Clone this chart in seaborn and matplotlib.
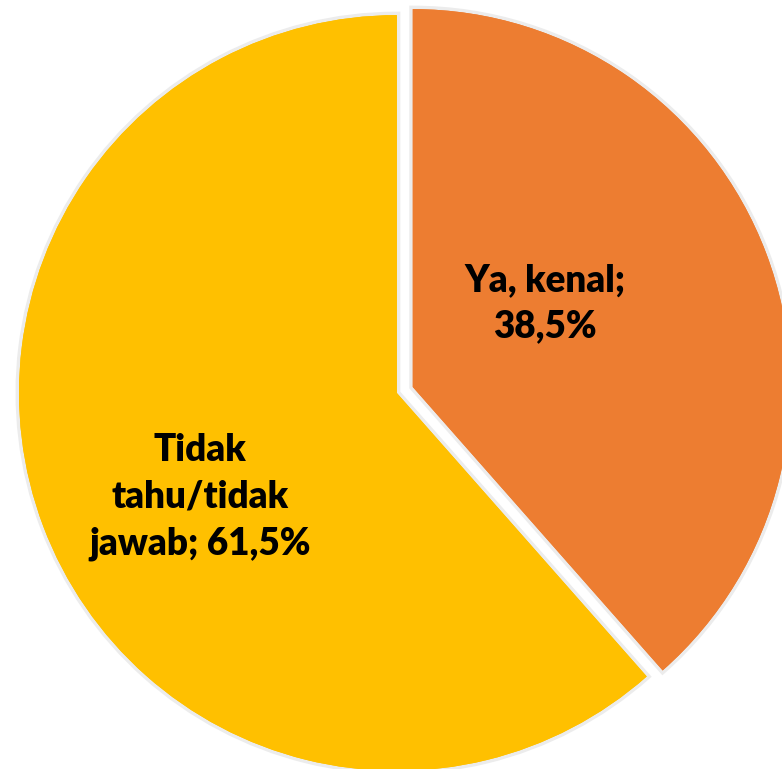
import matplotlib.pyplot as plt
import matplotlib.patheffects as pe
import seaborn as sns

# data
categories = ['Ya, kenal', 'Tidak\ntahu/tidak\njawab']
shares = [38.5, 61.5]
colors = ['#ED7D31', '#FFC000']

sns.set_theme(style='white')
plt.rcParams['font.family'] = ['Lato', 'DejaVu Sans']

fig = plt.figure(figsize=(7.82, 7.69), dpi=100)
ax = fig.add_axes([0, 0, 1, 1])

labels = []
for cat, v in zip(categories, shares):
    pct = f'{v:.1f}'.replace('.', ',')
    sep = '\n' if cat == 'Ya, kenal' else ' '
    labels.append(f'{cat};{sep}{pct}%')

wedges, texts = ax.pie(shares, labels=labels, colors=colors,
                       startangle=90, counterclock=False,
                       explode=[0.045, 0], labeldistance=0.5,
                       wedgeprops={'linewidth': 0})

# soft halo like the original drop shadow
for w in wedges:
    w.set_path_effects([pe.withStroke(linewidth=5, foreground='#ececec'), pe.Normal()])

# label placement (hand-positioned in the source chart)
label_pos = [(0.392, 0.238), (-0.521, -0.275)]
for t, pos in zip(texts, label_pos):
    t.set_position(pos)
    t.set_ha('center')
    t.set_va('center')
    t.set_fontsize(26.5)
    t.set_fontweight('heavy')
    t.set_color('black')
    t.set_linespacing(1.45)
    t.set_multialignment('center')

ax.set_xlim(-1.050, 1.019)
ax.set_ylim(-0.995, 1.040)
ax.axis('off')

fig.savefig('out.png', dpi=100, facecolor='white')
